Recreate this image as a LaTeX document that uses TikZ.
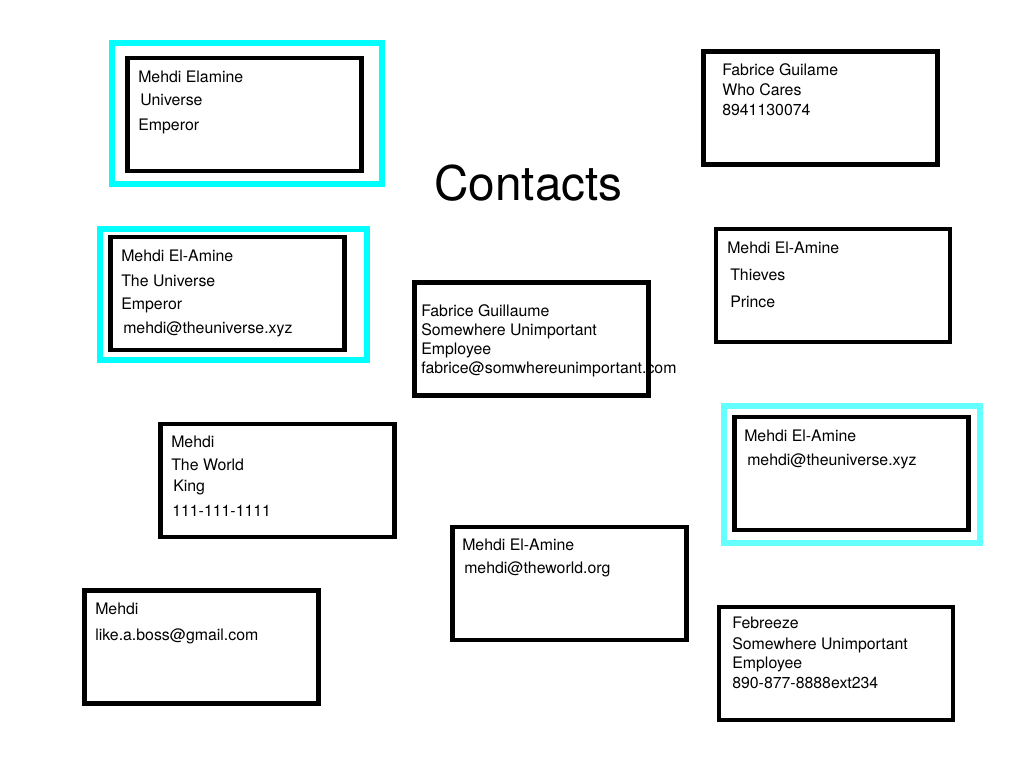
\documentclass[tikz,border=0pt]{standalone}
\usepackage{fontspec}
\setmainfont{TeX Gyre Heros}
\definecolor{main}{RGB}{0,255,255}
\definecolor{second}{RGB}{100,255,255}
\usetikzlibrary{positioning}
\tikzset{
  % card
	cstcard/.style   ={draw=black, line width=3.4pt, minimum width=175.5pt, minimum height=84.75pt, inner sep=0pt},
	csthl/.style     ={draw=main, line width=4.5pt, inner sep=0pt},
	csthle/.style    ={draw=second, line width=4.5pt, inner sep=0pt},
  % text
	csttext/.style   ={anchor=base west, inner sep=0pt, font=\fontsize{11.9}{14}\selectfont},
	csttitle/.style  ={anchor=base west, inner sep=0pt, font=\fontsize{35.8}{40}\selectfont}
}
\begin{document}
\begin{tikzpicture}[x=0.75pt,y=-0.75pt]
	\useasboundingbox (0,0) rectangle (1024,768);
	\node[csttitle] (title) at (434,200) {Contacts};
	% highlighted cards
	\node[csthl, minimum width=202.5pt, minimum height=105.75pt] (hl1) at (247,113.5) {};
	\node[csthl, minimum width=200.25pt, minimum height=98.25pt] (hl2) at (233.5,294.5) {};
	\node[csthle, minimum width=192pt, minimum height=102.75pt] (hl3) at (852,474.5) {};
	% cards
	\node[cstcard] (c1) at (244.5,114.5) {};
	\node[cstcard] (c2) at (227.5,293.5) {};
	\node[cstcard] (c3) at (820.5,108) {};
	\node[cstcard] (c4) at (833,285.5) {};
	\node[cstcard] (c5) at (531.5,339) {};
	\node[cstcard] (c6) at (277.5,480.5) {};
	\node[cstcard] (c7) at (851.5,473.5) {};
	\node[cstcard] (c8) at (569.5,583.5) {};
	\node[cstcard] (c9) at (201.5,647) {};
	\node[cstcard] (c10) at (836,663.5) {};
	% texts
	\node[csttext] (c1a) at (138,82) {Mehdi Elamine};
	\node[csttext] (c1b) at (140,105) {Universe};
	\node[csttext] (c1c) at (138,130) {Emperor};
	\node[csttext] (c2a) at (121,261) {Mehdi El-Amine};
	\node[csttext] (c2b) at (121,286) {The Universe};
	\node[csttext] (c2c) at (121,309) {Emperor};
	\node[csttext] (c2d) at (123,333) {mehdi@theuniverse.xyz};
	\node[csttext] (c3a) at (722,75) {Fabrice Guilame};
	\node[csttext] (c3b) at (722,95) {Who Cares};
	\node[csttext] (c3c) at (722,115) {8941130074};
	\node[csttext] (c4a) at (727,253) {Mehdi El-Amine};
	\node[csttext] (c4b) at (730,280) {Thieves};
	\node[csttext] (c4c) at (730,307) {Prince};
	\node[csttext] (c5a) at (421,316) {Fabrice Guillaume};
	\node[csttext] (c5b) at (421,335) {Somewhere Unimportant};
	\node[csttext] (c5c) at (421,354) {Employee};
	\node[csttext] (c5d) at (421,373) {fabrice@somwhereunimportant.com};
	\node[csttext] (c6a) at (171,447) {Mehdi};
	\node[csttext] (c6b) at (171,470) {The World};
	\node[csttext] (c6c) at (173,491) {King};
	\node[csttext] (c6d) at (172,516) {111-111-1111};
	\node[csttext] (c7a) at (744,441) {Mehdi El-Amine};
	\node[csttext] (c7b) at (747,465) {mehdi@theuniverse.xyz};
	\node[csttext] (c8a) at (462,550) {Mehdi El-Amine};
	\node[csttext] (c8b) at (464,573) {mehdi@theworld.org};
	\node[csttext] (c9a) at (95,614) {Mehdi};
	\node[csttext] (c9b) at (95,640) {like.a.boss@gmail.com};
	\node[csttext] (c10a) at (732,628) {Febreeze};
	\node[csttext] (c10b) at (732,649) {Somewhere Unimportant};
	\node[csttext] (c10c) at (732,668) {Employee};
	\node[csttext] (c10d) at (732,688) {890-877-8888ext234};
\end{tikzpicture}
\end{document}
